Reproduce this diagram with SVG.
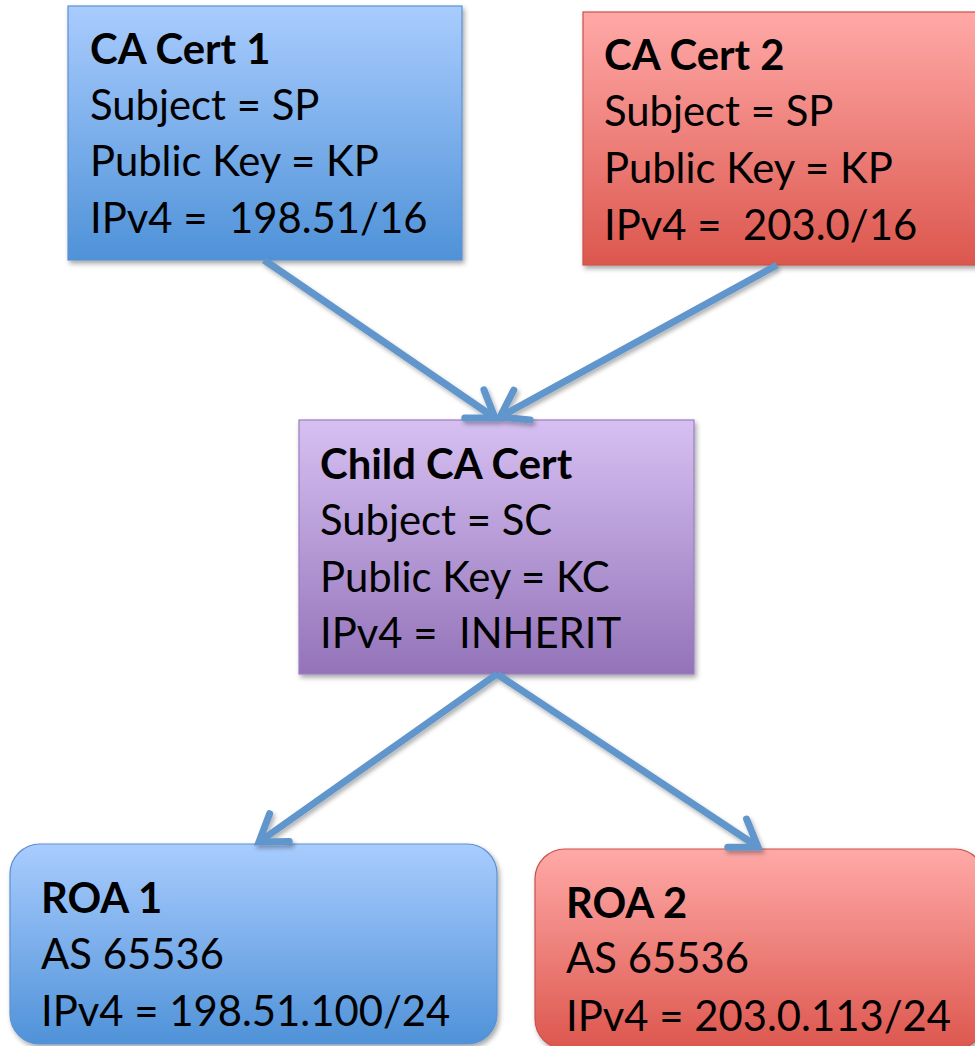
<svg xmlns="http://www.w3.org/2000/svg" width="975" height="1046" viewBox="0 0 975 1046">
<defs>
<linearGradient id="gBlue" x1="0" y1="0" x2="0" y2="1">
<stop offset="0" stop-color="#A9CCFE"/>
<stop offset="1" stop-color="#4F92D8"/>
</linearGradient>
<linearGradient id="gRed" x1="0" y1="0" x2="0" y2="1">
<stop offset="0" stop-color="#FFA9A7"/>
<stop offset="1" stop-color="#DC574E"/>
</linearGradient>
<linearGradient id="gPurple" x1="0" y1="0" x2="0" y2="1">
<stop offset="0" stop-color="#D6C0F2"/>
<stop offset="1" stop-color="#9473B9"/>
</linearGradient>
<filter id="shadow" x="-10%" y="-10%" width="125%" height="130%">
<feDropShadow dx="2" dy="3" stdDeviation="2.5" flood-color="#000" flood-opacity="0.35"/>
</filter>
<filter id="lshadow" x="-20%" y="-20%" width="140%" height="140%">
<feDropShadow dx="2" dy="3" stdDeviation="2" flood-color="#000" flood-opacity="0.3"/>
</filter>
<marker id="head" markerUnits="userSpaceOnUse" markerWidth="60" markerHeight="60" refX="0" refY="0" orient="auto" overflow="visible">
<path d="M-25,-17 L0,0 L-25,17" fill="none" stroke="#6196CB" stroke-width="7" stroke-linejoin="miter" stroke-linecap="round"/>
</marker>
</defs>
<style>
.t{font-family:Lato,"Open Sans","Liberation Sans",sans-serif;font-size:41.8px;fill:#000}
.b{font-weight:bold}
.blue{fill:url(#gBlue);stroke:#5C91D2;stroke-width:1.2}
.red{fill:url(#gRed);stroke:#C9524B;stroke-width:1.2}
.purple{fill:url(#gPurple);stroke:#9A7DC0;stroke-width:1.2}
.conn{fill:none;stroke:#6196CB;stroke-width:7;marker-end:url(#head)}
</style>
<g id="ca-cert-1">
<rect class="blue" x="68" y="6" width="394" height="254" filter="url(#shadow)"/>
<text class="t b" x="90" y="64">CA Cert 1</text>
<text class="t" x="90" y="120">Subject = SP</text>
<text class="t" x="90" y="176">Public Key = KP</text>
<text class="t" x="90" y="233" xml:space="preserve">IPv4 =  198.51/16</text>
</g>
<g id="ca-cert-2">
<rect class="red" x="583" y="12" width="400" height="253" filter="url(#shadow)"/>
<text class="t b" x="604" y="70">CA Cert 2</text>
<text class="t" x="604" y="126">Subject = SP</text>
<text class="t" x="604" y="183">Public Key = KP</text>
<text class="t" x="604" y="240" xml:space="preserve">IPv4 =  203.0/16</text>
</g>
<g id="child-ca-cert">
<rect class="purple" x="299" y="420" width="395" height="254" filter="url(#shadow)"/>
<text class="t b" x="320" y="479">Child CA Cert</text>
<text class="t" x="320" y="535">Subject = SC</text>
<text class="t" x="320" y="592">Public Key = KC</text>
<text class="t" x="320" y="648" xml:space="preserve">IPv4 =  INHERIT</text>
</g>
<g id="roa-1">
<rect class="blue" x="10" y="844" width="487" height="200" rx="30" ry="30" filter="url(#shadow)"/>
<text class="t b" x="41" y="913">ROA 1</text>
<text class="t" x="41" y="969">AS 65536</text>
<text class="t" x="41" y="1026">IPv4 = 198.51.100/24</text>
</g>
<g id="roa-2">
<rect class="red" x="535" y="849" width="450" height="200" rx="30" ry="30" filter="url(#shadow)"/>
<text class="t b" x="566" y="918">ROA 2</text>
<text class="t" x="566" y="973">AS 65536</text>
<text class="t" x="566" y="1031">IPv4 = 203.0.113/24</text>
</g>
<g id="connectors" filter="url(#lshadow)">
<path class="conn" d="M264,260 L495,418"/>
<path class="conn" d="M777,265 L500,417"/>
<path class="conn" d="M497,674 L259,842"/>
<path class="conn" d="M497,674 L758,847"/>
</g>
</svg>
